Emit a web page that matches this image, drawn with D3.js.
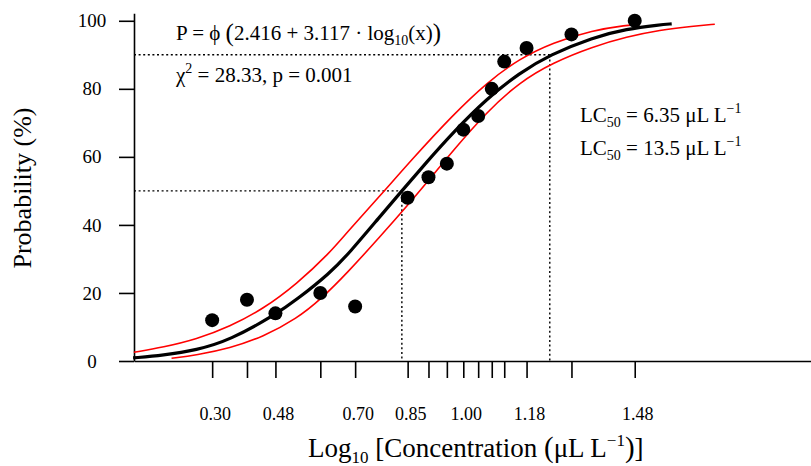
<!DOCTYPE html>
<html>
<head>
<meta charset="utf-8">
<script src="https://cdn.jsdelivr.net/npm/d3@7"></script>
<style>
  body { margin: 0; background: #fff; }
  text { font-family: "Liberation Serif", "Times New Roman", serif; fill: #000; }
</style>
</head>
<body>
<div id="chart-area"></div>
<script>
// observed mortality
var conc = [2, 2.5, 3, 4, 5, 7, 8, 9, 10, 11, 12, 13, 15, 20, 30];
var mortality = [12, 18, 14, 20, 16, 48, 54, 58, 68, 72, 80, 88, 92, 96, 100];

// tick labels on the x axis (log10 of the concentration)
var labelConc = [2, 3, 5, 7, 10, 15, 30];
var tickLabels = ["0.30", "0.48", "0.70", "0.85", "1.00", "1.18", "1.48"];
var yTicks = [0, 20, 40, 60, 80, 100];

// fitted probit line
var fitLog = [0.081, 0.1645, 0.2574, 0.350, 0.477, 0.536, 0.6285, 0.684, 0.7676, 0.829, 0.8984, 0.971, 1.065, 1.157, 1.241, 1.360, 1.455, 1.547, 1.580];
var fitP   = [0.9, 1.7, 3.2, 6.1, 13.6, 18.0, 25.8, 31.9, 42.4, 50.0, 58.5, 67.1, 77.1, 84.7, 90.0, 95.1, 97.6, 98.8, 99.1];

// confidence limits (red)
var upLog = [0.083, 0.1645, 0.2574, 0.350, 0.443, 0.536, 0.6285, 0.676, 0.768, 0.859, 0.971, 1.065, 1.157, 1.249, 1.360, 1.455, 1.491];
var upP   = [2.56, 4.03, 6.38, 10.1, 15.3, 22.6, 31.8, 37.8, 48.5, 59.5, 72.3, 81.8, 88.9, 93.6, 97.2, 98.7, 99.0];
var loLog = [0.188, 0.2574, 0.350, 0.443, 0.536, 0.606, 0.676, 0.768, 0.843, 0.907, 0.971, 1.065, 1.157, 1.249, 1.360, 1.455, 1.547, 1.639, 1.700];
var loP   = [0.79, 1.76, 3.73, 7.14, 12.4, 18.4, 25.8, 36.5, 45.5, 53.5, 61.8, 73.2, 82.0, 87.7, 92.4, 95.3, 97.3, 98.4, 99.0];

// lethal levels (%) and their log10 concentration
var lcLevels = [50, 90];
var lcLog = [0.829, 1.2407];

var svg = d3.select("#chart-area")
  .append("svg")
    .attr("width", 811)
    .attr("height", 466);

var x = d3.scaleLinear().domain([0.0835, 2.0]).range([134, 822.6]);
var y = d3.scaleLinear().domain([0, 102.2]).range([361, 13.3]);

// axes
var xAxisGroup = svg.append("g")
  .attr("transform", "translate(0, " + y(0) + ")")
  .call(d3.axisBottom(x)
    .tickValues(conc.map(function(d) { return Math.log10(d); }))
    .tickFormat("")
    .tickSize(17)
    .tickSizeOuter(0));

var yAxisGroup = svg.append("g")
  .attr("transform", "translate(" + x(0.0835) + ", 0)")
  .call(d3.axisLeft(y)
    .tickValues(yTicks)
    .tickSize(15)
    .tickSizeOuter(0));

svg.selectAll(".domain, .tick line")
  .attr("stroke", "#000")
  .attr("stroke-width", 1.6);

yAxisGroup.selectAll("text")
  .attr("x", -42)
  .style("text-anchor", "middle")
  .attr("font-size", "19px")
  .attr("font-family", "Liberation Serif, serif");

svg.selectAll(".x-label")
  .data(labelConc)
  .enter().append("text")
    .attr("class", "x-label")
    .attr("x", function(d) { return x(Math.log10(d)) + 3; })
    .attr("y", 420)
    .attr("text-anchor", "middle")
    .attr("font-size", "18px")
    .text(function(d, i) { return tickLabels[i]; });

// dotted guide lines
lcLevels.forEach(function(lv, i) {
  svg.append("line")
    .attr("x1", x(0.0835)).attr("x2", x(lcLog[i]))
    .attr("y1", y(lv)).attr("y2", y(lv))
    .attr("stroke", "#000").attr("stroke-width", 1.4)
    .attr("stroke-dasharray", "2,2.6");
  svg.append("line")
    .attr("x1", x(lcLog[i])).attr("x2", x(lcLog[i]))
    .attr("y1", y(lv)).attr("y2", y(0))
    .attr("stroke", "#000").attr("stroke-width", 1.4)
    .attr("stroke-dasharray", "2,2.6");
});

// curves
var line = d3.line()
  .x(function(d) { return x(d[0]); })
  .y(function(d) { return y(d[1]); })
  .curve(d3.curveBasis);

function pairs(a, b) { return a.map(function(v, i) { return [v, b[i]]; }); }

svg.append("path").datum(pairs(upLog, upP))
  .attr("d", line).attr("fill", "none").attr("stroke", "#ff0000").attr("stroke-width", 1.6);
svg.append("path").datum(pairs(loLog, loP))
  .attr("d", line).attr("fill", "none").attr("stroke", "#ff0000").attr("stroke-width", 1.6);
svg.append("path").datum(pairs(fitLog, fitP))
  .attr("d", line).attr("fill", "none").attr("stroke", "#000").attr("stroke-width", 3.2);

// observed points
svg.selectAll("circle")
  .data(conc)
  .enter().append("circle")
    .attr("cx", function(d) { return x(Math.log10(d)); })
    .attr("cy", function(d, i) { return y(mortality[i]); })
    .attr("r", 7)
    .attr("fill", "#000");

// annotations
var eq = svg.append("text").attr("x", 176).attr("y", 40).attr("font-size", "21px");
eq.append("tspan").text("P = \u03D5 ");
eq.append("tspan").attr("font-size", "25px").attr("dy", 1).text("(");
eq.append("tspan").attr("dy", -1).text("2.416 + 3.117 \u00B7 log");
eq.append("tspan").attr("font-size", "14px").attr("dy", 5).text("10");
eq.append("tspan").attr("dy", -5).text("(x)");
eq.append("tspan").attr("font-size", "25px").attr("dy", 1).text(")");

var chi = svg.append("text").attr("x", 176).attr("y", 82).attr("font-size", "21px");
chi.append("tspan").text("\u03C7");
chi.append("tspan").attr("font-size", "14px").attr("dy", -9).text("2");
chi.append("tspan").attr("dy", 9).text(" = 28.33, p = 0.001");

function lcText(yPos, val) {
  var t = svg.append("text").attr("x", 580).attr("y", yPos).attr("font-size", "21px");
  t.append("tspan").text("LC");
  t.append("tspan").attr("font-size", "14px").attr("dy", 5).text("50");
  t.append("tspan").attr("dy", -5).text(" = " + val + " \u03BCL L");
  t.append("tspan").attr("font-size", "14px").attr("dy", -9).text("\u22121");
}
lcText(122, "6.35");
lcText(155, "13.5");

// axis titles
var xt = svg.append("text").attr("x", 308).attr("y", 457).attr("font-size", "27px");
xt.append("tspan").text("Log");
xt.append("tspan").attr("font-size", "17px").attr("dy", 6).text("10");
xt.append("tspan").attr("dy", -6).text(" [Concentration ");
xt.append("tspan").attr("font-size", "29px").text("(");
xt.append("tspan").text("\u03BCL L");
xt.append("tspan").attr("font-size", "17px").attr("dy", -11).text("\u22121");
xt.append("tspan").attr("font-size", "29px").attr("dy", 11).text(")");
xt.append("tspan").text("]");

svg.append("text")
  .attr("transform", "translate(31, 188) rotate(-90)")
  .attr("text-anchor", "middle")
  .attr("font-size", "26px")
  .text("Probability (%)");
</script>
</body>
</html>
